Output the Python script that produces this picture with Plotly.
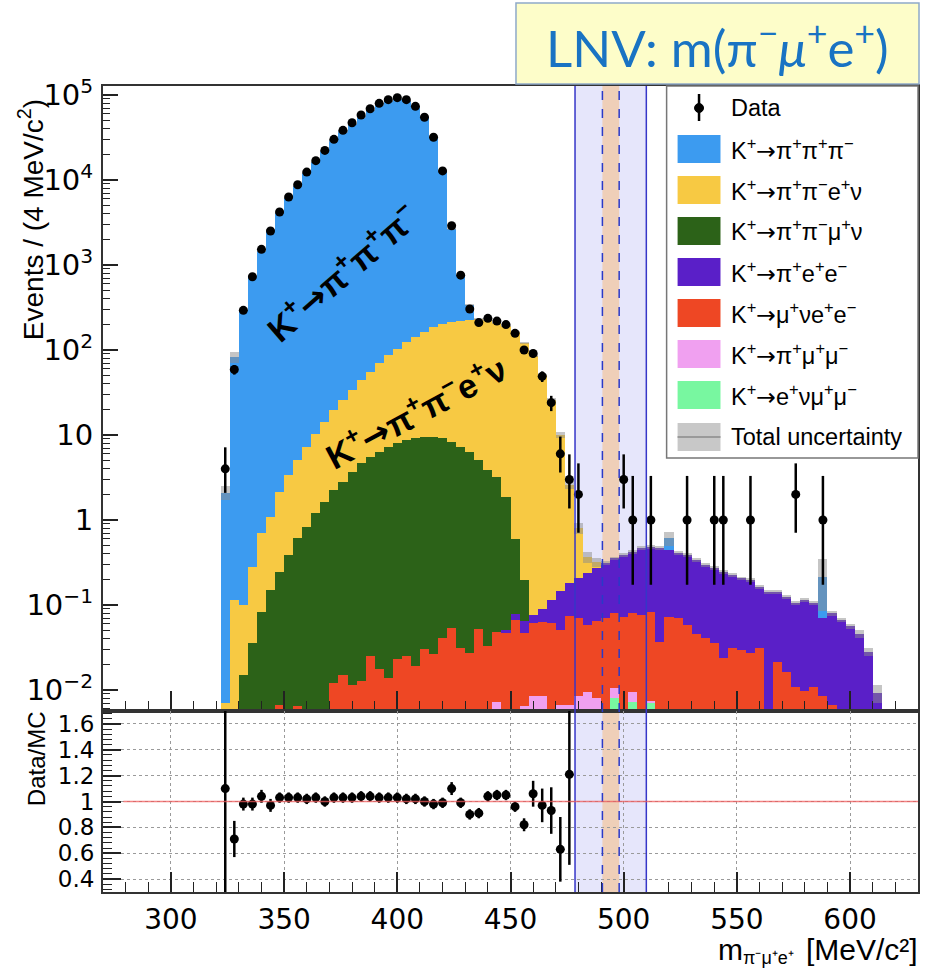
import numpy as np
import plotly.graph_objects as go

# ---------------------------------------------------------------------------
# Binned m(pi- mu+ e+) spectrum, 4 MeV/c^2 bins (bin centres)
# ---------------------------------------------------------------------------
mass = list(range(324, 616, 4))  # 324 ... 612

# Expected events per bin, one list per background channel (aligned with mass)
k3pi = [2.1, 83, 299, 743, 1470, 2590, 4080, 6130, 8540, 12140,
        16390, 21890, 29180, 37270, 45770, 55960, 66250, 77430, 85410, 90300,
        85380, 72060, 54540, 32210, 12700, 2430, 548, 113, 0, 0,
        0, 0, 0, 0, 0, 0, 0, 0, 0, 0,
        0, 0, 0, 0, 0, 0, 0, 0, 0, 0.166,
        0, 0, 0, 0, 0, 0, 0, 0, 0, 0,
        0, 0, 0, 0, 0, 0, 0.145, 0, 0, 0,
        0, 0, 0]
ke4 = [0.007, 0.115, 0.085, 0.244, 0.617, 0.94, 1.90, 2.99, 4.47, 6.47,
       9.2, 12.66, 17.45, 22.97, 30.1, 39.75, 49.95, 63.44, 80.1, 96.0,
       116.3, 133.9, 154.5, 178.5, 195.9, 205.7, 212.7, 218.6, 225.9, 223.1,
       205.8, 188.1, 163.4, 121.8, 85.9, 50.9, 25.9, 9.86, 2.42, 0.594,
       0.134, 0.05, 0, 0, 0, 0, 0, 0, 0, 0,
       0, 0, 0, 0, 0, 0, 0, 0, 0, 0,
       0, 0, 0, 0, 0, 0, 0, 0, 0, 0,
       0, 0, 0]
kmu4 = [0, 0, 0.015, 0.036, 0.083, 0.15, 0.240, 0.39, 0.604, 0.83,
        1.2, 1.64, 2.238, 2.815, 3.689, 4.637, 5.525, 6.342, 7.286, 7.977,
        8.675, 9.081, 9.47, 9.474, 9.059, 8.277, 7.268, 6.332, 5.028, 3.837,
        3.181, 1.83, 0.52, 0.135, 0, 0, 0, 0, 0, 0,
        0, 0, 0, 0, 0, 0, 0, 0, 0, 0,
        0, 0, 0, 0, 0, 0, 0, 0, 0, 0,
        0, 0, 0, 0, 0, 0, 0, 0, 0, 0,
        0, 0, 0]
piee = [0, 0, 0, 0, 0, 0, 0, 0, 0, 0,
        0, 0, 0, 0, 0, 0, 0, 0, 0, 0,
        0, 0, 0, 0, 0, 0, 0, 0, 0, 0,
        0, 0.004, 0.012, 0.018, 0.015, 0.027, 0.054, 0.094, 0.106, 0.136,
        0.178, 0.206, 0.24, 0.274, 0.314, 0.344, 0.389, 0.402, 0.428, 0.371,
        0.336, 0.329, 0.292, 0.256, 0.235, 0.222, 0.195, 0.176, 0.170, 0.133,
        0.143, 0.122, 0.109, 0.094, 0.105, 0.094, 0.062, 0.073, 0.067, 0.056,
        0.046, 0.028, 0.0092]
munuee = [0, 0, 0, 0, 0, 0, 0.0066, 0, 0.0064, 0,
          0, 0, 0.012, 0.0151, 0.0114, 0.0128, 0.0254, 0.0175, 0.0137, 0.0231,
          0.0254, 0.0193, 0.030, 0.0263, 0.0413, 0.0533, 0.0315, 0.0276, 0.052, 0.033,
          0.0412, 0.0465, 0.067, 0.040, 0.0526, 0.0553, 0.061, 0.0443, 0.0674, 0.0616,
          0.0485, 0.056, 0.064, 0.0695, 0.073, 0.0705, 0.076, 0.0757, 0.037, 0.073,
          0.070, 0.058, 0.046, 0.0405, 0.0355, 0.0236, 0.031, 0.0296, 0.027, 0.031,
          0, 0.0215, 0.0164, 0.0109, 0.0098, 0.0109, 0.0084, 0.0066, 0, 0,
          0, 0, 0]
pimumu = [0, 0, 0, 0, 0, 0, 0, 0, 0, 0,
          0, 0, 0, 0, 0, 0, 0, 0, 0, 0,
          0, 0, 0, 0, 0, 0, 0, 0, 0, 0,
          0.0073, 0, 0, 0.0065, 0.0084, 0.0084, 0, 0.0066, 0.0066, 0.0084,
          0.0095, 0.008, 0.006, 0.0025, 0, 0.0023, 0, 0.0005, 0, 0,
          0, 0, 0, 0, 0, 0, 0, 0, 0, 0,
          0, 0, 0, 0, 0, 0, 0, 0, 0, 0,
          0, 0, 0]
enumumu = [0, 0, 0, 0, 0, 0, 0, 0, 0, 0,
           0, 0, 0, 0, 0, 0, 0, 0, 0, 0,
           0, 0, 0, 0, 0, 0, 0, 0, 0, 0,
           0, 0, 0, 0, 0, 0, 0, 0, 0, 0,
           0, 0, 0, 0.008, 0, 0.0072, 0, 0.007, 0, 0,
           0, 0, 0, 0, 0, 0, 0, 0, 0, 0,
           0, 0, 0, 0, 0, 0, 0, 0, 0, 0,
           0, 0, 0]
# Relative total uncertainty of the summed expectation
mc_rel_unc = [0.18, 0.15, 0.03, 0.03, 0.03, 0.03, 0.03, 0.03, 0.03, 0.03,
              0.03, 0.03, 0.03, 0.03, 0.03, 0.03, 0.03, 0.03, 0.03, 0.03,
              0.03, 0.03, 0.03, 0.03, 0.03, 0.03, 0.03, 0.03, 0.03, 0.03,
              0.03, 0.03, 0.03, 0.03, 0.03, 0.03, 0.04, 0.08, 0.12, 0.15,
              0.15, 0.12, 0.05, 0.05, 0.05, 0.05, 0.05, 0.05, 0.05, 0.20,
              0.05, 0.05, 0.05, 0.05, 0.05, 0.05, 0.05, 0.05, 0.05, 0.05,
              0.05, 0.05, 0.05, 0.05, 0.05, 0.05, 0.60, 0.06, 0.06, 0.08,
              0.10, 0.10, 0.24]

# Observed events (non-empty bins only)
data_mass = [324, 328, 332, 336, 340, 344, 348, 352, 356, 360,
             364, 368, 372, 376, 380, 384, 388, 392, 396, 400,
             404, 408, 412, 416, 420, 424, 428, 432, 436, 440,
             444, 448, 452, 456, 460, 464, 468, 472, 476, 480,
             500, 504, 512, 528, 540, 544, 556, 576, 588]
data_counts = [4, 59, 293, 728, 1530, 2512, 4200, 6310, 8800, 12400,
               16900, 22300, 30100, 38400, 47200, 58200, 69000, 79800, 88100, 93100,
               88100, 73600, 54700, 31800, 12800, 2900, 760, 304, 210, 236,
               219, 199, 157, 100, 91, 49, 24, 6, 3, 2,
               3, 1, 1, 1, 1, 1, 1, 2, 1]

# Data / expectation ratio
ratio_mass = list(range(324, 480, 4))
ratio = [1.10, 0.71, 0.98, 0.98, 1.04, 0.97, 1.03, 1.03, 1.03, 1.02,
         1.03, 1.00, 1.03, 1.03, 1.03, 1.04, 1.04, 1.03, 1.03, 1.03,
         1.02, 1.02, 1.00, 0.98, 0.99, 1.10, 0.99, 0.90, 0.91, 1.04,
         1.05, 1.05, 0.96, 0.82, 1.06, 0.97, 0.93, 0.63, 1.21]
ratio_err = [1.00, 0.14, 0.05, 0.05, 0.05, 0.05, 0.04, 0.04, 0.04, 0.04,
             0.04, 0.04, 0.04, 0.04, 0.04, 0.04, 0.04, 0.04, 0.04, 0.04,
             0.04, 0.04, 0.04, 0.04, 0.04, 0.05, 0.04, 0.04, 0.04, 0.04,
             0.04, 0.04, 0.04, 0.05, 0.10, 0.13, 0.18, 0.25, 0.70]

# Signal window and kaon-mass region
window = (478.5, 510.0)
kaon_region = (490.6, 498.0)

# ---------------------------------------------------------------------------
# Geometry helpers (pixel -> paper)
# ---------------------------------------------------------------------------
W, H = 925, 968
PL, PR, PT, PB = 103, 920, 86, 892
SPLIT = 711


def px(x):
    return (x - PL) / (PR - PL)


def py(y):
    return (PB - y) / (PB - PT)


y_split = py(SPLIT)

FONT = "Liberation Sans, Arial, Helvetica, sans-serif"
TICKFONT = "DejaVu Sans, Liberation Sans, sans-serif"
ARROW = "<span style='font-family:DejaVu Sans'>→</span>"

c_k3pi = "#3c9bf0"
c_ke4 = "#f7c943"
c_kmu4 = "#2c6218"
c_piee = "#5a1fc8"
c_munuee = "#ee4724"
c_pimumu = "#f0a0f0"
c_enumumu = "#78f7a0"

fig = go.Figure()

# Stacked expectation, bottom to top
stack = [
    (enumumu, c_enumumu),
    (pimumu, c_pimumu),
    (munuee, c_munuee),
    (piee, c_piee),
    (kmu4, c_kmu4),
    (ke4, c_ke4),
    (k3pi, c_k3pi),
]
for vals, col in stack:
    fig.add_trace(go.Bar(
        x=mass, y=vals, width=4,
        marker=dict(color=col, line=dict(width=0)),
        xaxis="x", yaxis="y", showlegend=False, hoverinfo="skip",
    ))

# Total uncertainty band on the summed expectation
total = np.sum([np.array(v, dtype=float) for v, _ in stack], axis=0)
unc = total * np.array(mc_rel_unc)
fig.add_trace(go.Bar(
    x=mass, y=2 * unc, base=total - unc, width=4,
    marker=dict(color="rgba(140,140,140,0.5)", line=dict(width=0)),
    xaxis="x", yaxis="y", showlegend=False, hoverinfo="skip",
))

# Poisson (Garwood) intervals for small counts, sqrt(N) otherwise
garwood = {1: (0.827, 2.300), 2: (1.292, 2.638), 3: (1.633, 2.918),
           4: (1.914, 3.163), 5: (2.159, 3.382), 6: (2.380, 3.584),
           7: (2.581, 3.770)}
err_lo = [garwood[n][0] if n in garwood else np.sqrt(n) for n in data_counts]
err_hi = [garwood[n][1] if n in garwood else np.sqrt(n) for n in data_counts]

fig.add_trace(go.Scatter(
    x=data_mass, y=data_counts, mode="markers",
    marker=dict(color="black", size=9),
    error_y=dict(type="data", symmetric=False, array=err_hi, arrayminus=err_lo,
                 color="black", thickness=2.5, width=0),
    xaxis="x", yaxis="y", showlegend=False, hoverinfo="skip",
))

fig.add_trace(go.Scatter(
    x=ratio_mass, y=ratio, mode="markers",
    marker=dict(color="black", size=9),
    error_y=dict(type="data", array=ratio_err, color="black", thickness=2.5, width=0),
    xaxis="x2", yaxis="y2", showlegend=False, hoverinfo="skip",
))

shapes = []
# Signal window (both panels)
shapes.append(dict(type="rect", xref="x", yref="paper", x0=window[0], x1=window[1],
                   y0=0, y1=1, fillcolor="rgba(222,222,250,0.75)", line=dict(width=0),
                   layer="below"))
shapes.append(dict(type="rect", xref="x", yref="paper", x0=kaon_region[0], x1=kaon_region[1],
                   y0=0, y1=1, fillcolor="#efcfb8", line=dict(width=0), layer="below"))
for xv in window:
    shapes.append(dict(type="line", xref="x", yref="paper", x0=xv, x1=xv, y0=0, y1=1,
                       line=dict(color="#3636c8", width=1.5), layer="above"))
for xv in kaon_region:
    shapes.append(dict(type="line", xref="x", yref="paper", x0=xv, x1=xv, y0=0, y1=1,
                       line=dict(color="#2a3ac8", width=1.5, dash="dash"), layer="above"))
# Unit line on the ratio panel
shapes.append(dict(type="line", xref="x2", yref="y2", x0=279, x1=630, y0=1, y1=1,
                   line=dict(color="rgba(240,90,90,0.75)", width=1.5), layer="above"))

# Title box
shapes.append(dict(type="rect", xref="paper", yref="paper", x0=px(517), x1=px(921),
                   y0=py(84), y1=py(3), fillcolor="#fdfdc9",
                   line=dict(color="#8ea9c9", width=1.5), layer="above"))

# Legend box
shapes.append(dict(type="rect", xref="paper", yref="paper", x0=px(668), x1=px(920),
                   y0=py(458), y1=py(86), fillcolor="white",
                   line=dict(color="#777777", width=1.5), layer="above"))

annotations = []
legend_rows = [108, 149, 190, 231, 272, 313, 354, 395, 437]
legend_entries = [
    ("Data", None),
    ("K<sup>+</sup>" + ARROW + "π<sup>+</sup>π<sup>+</sup>π<sup>−</sup>", c_k3pi),
    ("K<sup>+</sup>" + ARROW + "π<sup>+</sup>π<sup>−</sup>e<sup>+</sup>ν", c_ke4),
    ("K<sup>+</sup>" + ARROW + "π<sup>+</sup>π<sup>−</sup>μ<sup>+</sup>ν", c_kmu4),
    ("K<sup>+</sup>" + ARROW + "π<sup>+</sup>e<sup>+</sup>e<sup>−</sup>", c_piee),
    ("K<sup>+</sup>" + ARROW + "μ<sup>+</sup>νe<sup>+</sup>e<sup>−</sup>", c_munuee),
    ("K<sup>+</sup>" + ARROW + "π<sup>+</sup>μ<sup>+</sup>μ<sup>−</sup>", c_pimumu),
    ("K<sup>+</sup>" + ARROW + "e<sup>+</sup>νμ<sup>+</sup>μ<sup>−</sup>", c_enumumu),
    ("Total uncertainty", "unc"),
]
for yrow, (label, col) in zip(legend_rows, legend_entries):
    if col is None:
        shapes.append(dict(type="line", xref="paper", yref="paper", x0=px(700.5), x1=px(700.5),
                           y0=py(yrow - 14), y1=py(yrow + 13),
                           line=dict(color="black", width=2.5), layer="above"))
        shapes.append(dict(type="circle", xref="paper", yref="paper",
                           x0=px(696), x1=px(705), y0=py(yrow + 4.5), y1=py(yrow - 4.5),
                           fillcolor="black", line=dict(color="black", width=1), layer="above"))
    elif col == "unc":
        shapes.append(dict(type="rect", xref="paper", yref="paper", x0=px(679), x1=px(722),
                           y0=py(yrow + 14), y1=py(yrow - 14), fillcolor="#c8c8c8",
                           line=dict(width=0), layer="above"))
        shapes.append(dict(type="line", xref="paper", yref="paper", x0=px(679), x1=px(722),
                           y0=py(yrow), y1=py(yrow), line=dict(color="#9a9a9a", width=2),
                           layer="above"))
    else:
        shapes.append(dict(type="rect", xref="paper", yref="paper", x0=px(679), x1=px(722),
                           y0=py(yrow + 14), y1=py(yrow - 14), fillcolor=col,
                           line=dict(width=0), layer="above"))
    annotations.append(dict(xref="paper", yref="paper", x=px(731), y=py(yrow),
                            xanchor="left", yanchor="middle", text=label, showarrow=False,
                            font=dict(family=FONT, size=23.5, color="black")))

# Title text
annotations.append(dict(xref="paper", yref="paper", x=px(719), y=py(44),
                        xanchor="center", yanchor="middle",
                        text="LNV: m(π<sup>−</sup><i>μ</i><sup>+</sup>e<sup>+</sup>)",
                        showarrow=False,
                        font=dict(family="Lato, Open Sans, sans-serif", size=51, color="#1973c3")))

# Channel labels on the histogram
annotations.append(dict(xref="paper", yref="paper", x=px(342), y=py(272),
                        xanchor="center", yanchor="middle",
                        text="<b>K<sup>+</sup>" + ARROW + "π<sup>+</sup>π<sup>+</sup>π<sup>−</sup></b>",
                        textangle=-41, showarrow=False,
                        font=dict(family=FONT, size=34, color="black")))
annotations.append(dict(xref="paper", yref="paper", x=px(416), y=py(411),
                        xanchor="center", yanchor="middle",
                        text="<b>K<sup>+</sup>" + ARROW + "π<sup>+</sup>π<sup>−</sup>e<sup>+</sup>ν</b>",
                        textangle=-28, showarrow=False,
                        font=dict(family=FONT, size=34, color="black")))

# Axis titles
annotations.append(dict(xref="paper", yref="paper", x=px(31), y=py(220),
                        text="Events / (4 MeV/c<sup>2</sup>)", textangle=-90, showarrow=False,
                        xanchor="center", yanchor="middle",
                        font=dict(family=FONT, size=28, color="black")))
annotations.append(dict(xref="paper", yref="paper", x=px(36), y=py(759),
                        text="Data/MC", textangle=-90, showarrow=False,
                        xanchor="center", yanchor="middle",
                        font=dict(family=FONT, size=24, color="black")))
# x-axis title: symbol, subscript and unit set as separate pieces
annotations.append(dict(xref="paper", yref="paper", x=px(921), y=py(950),
                        text="[MeV/c²]", showarrow=False, borderpad=0,
                        xanchor="right", yanchor="middle",
                        font=dict(family=FONT, size=30, color="black")))
annotations.append(dict(xref="paper", yref="paper", x=px(797), y=py(958),
                        text="π⁻μ⁺e⁺", showarrow=False, borderpad=0,
                        xanchor="right", yanchor="middle",
                        font=dict(family=FONT, size=18, color="black")))
annotations.append(dict(xref="paper", yref="paper", x=px(746), y=py(950),
                        text="m", showarrow=False, borderpad=0,
                        xanchor="right", yanchor="middle",
                        font=dict(family=FONT, size=30, color="black")))

axis_common = dict(showline=True, mirror=True, linecolor="#333333", linewidth=2,
                   tickcolor="#222222", zeroline=False)

major_log = [1e-2, 1e-1, 1, 10, 1e2, 1e3, 1e4, 1e5]
major_log_text = ["10<sup>−2</sup>", "10<sup>−1</sup>", "1", "10",
                  "10<sup>2</sup>", "10<sup>3</sup>", "10<sup>4</sup>", "10<sup>5</sup>"]
minor_log = [m * 10.0 ** e for e in range(-3, 6) for m in range(2, 10)]

fig.update_layout(
    width=W, height=H,
    margin=dict(l=PL, r=W - PR, t=PT, b=H - PB),
    paper_bgcolor="white", plot_bgcolor="white",
    barmode="stack", bargap=0, showlegend=False,
    font=dict(family=FONT, color="black"),
    xaxis=dict(domain=[0, 1], anchor="y", range=[270, 630], showticklabels=False,
               ticks="inside", ticklen=20, tickwidth=1.5, tick0=0, dtick=50,
               minor=dict(ticks="inside", ticklen=10, tick0=0, dtick=10,
                          tickcolor="#222222", tickwidth=1.2),
               showgrid=False, **axis_common),
    yaxis=dict(domain=[y_split, 1], anchor="x", type="log", range=[-2.247, 5.106],
               tickmode="array", tickvals=major_log, ticktext=major_log_text,
               ticks="inside", ticklen=15, tickwidth=1.5,
               minor=dict(ticks="inside", ticklen=7, tickmode="array", tickvals=minor_log,
                          tickcolor="#222222", tickwidth=1.2),
               tickfont=dict(family=TICKFONT, size=29), ticklabelstandoff=2,
               showgrid=False, **axis_common),
    xaxis2=dict(domain=[0, 1], anchor="y2", matches="x", range=[270, 630],
                tick0=0, dtick=50, ticks="inside", ticklen=20, tickwidth=1.5,
                minor=dict(ticks="inside", ticklen=10, tick0=0, dtick=10,
                           tickcolor="#222222", tickwidth=1.2),
                tickfont=dict(family=TICKFONT, size=28), ticklabelstandoff=1,
                showgrid=True, griddash="dot", gridcolor="#9a9a9a", gridwidth=1,
                **axis_common),
    yaxis2=dict(domain=[0, y_split], anchor="x2", range=[0.3, 1.7],
                tickmode="array", tickvals=[0.4, 0.6, 0.8, 1.0, 1.2, 1.4, 1.6],
                ticktext=["0.4", "0.6", "0.8", "1", "1.2", "1.4", "1.6"],
                ticks="inside", ticklen=18, tickwidth=1.5,
                minor=dict(ticks="inside", ticklen=9, tickmode="linear", tick0=0, dtick=0.04,
                           tickcolor="#222222", tickwidth=1.2),
                tickfont=dict(family=TICKFONT, size=23), ticklabelstandoff=2,
                showgrid=True, griddash="dot", gridcolor="#9a9a9a", gridwidth=1,
                **axis_common),
    shapes=shapes,
    annotations=annotations,
)

fig.write_html("out.html")
